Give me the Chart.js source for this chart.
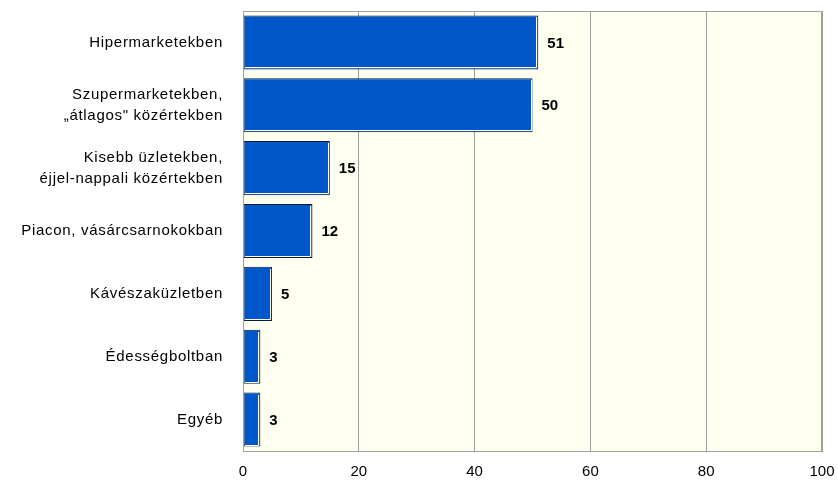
<!DOCTYPE html>
<html>
<head>
<meta charset="utf-8">
<script src="https://cdn.jsdelivr.net/npm/chart.js@4/dist/chart.umd.min.js"></script>
<style>html,body{margin:0;padding:0;background:#fff;}canvas{display:block;}</style>
</head>
<body>
<canvas id="c" width="838" height="482"></canvas>
<script>
const categories = [
  ["Hipermarketekben"],
  ["Szupermarketekben,", "„átlagos\" közértekben"],
  ["Kisebb üzletekben,", "éjjel-nappali közértekben"],
  ["Piacon, vásárcsarnokokban"],
  ["Kávészaküzletben"],
  ["Édességboltban"],
  ["Egyéb"]
];
const values = [51, 50, 15, 12, 5, 3, 3];
const xTicks = [0, 20, 40, 60, 80, 100];

const FONT = "'Liberation Sans', Arial, sans-serif";
const PLOT_BG = '#ffffef';
const GRID = '#a0a0a0';

const plotBgPlugin = {
  id: 'plotBg',
  afterLayout(chart) {
    const s = chart.scales.y;
    if (s && !s._lsPatched) {
      const orig = s.drawLabels.bind(s);
      s.drawLabels = function (area) {
        const ctx = this.ctx;
        ctx.save();
        ctx.letterSpacing = '0.7px';
        orig(area);
        ctx.restore();
      };
      s._lsPatched = true;
    }
  },
  beforeDraw(chart) {
    const {ctx, chartArea: a} = chart;
    ctx.save();
    ctx.fillStyle = PLOT_BG;
    ctx.fillRect(a.left, a.top, a.right - a.left, a.bottom - a.top);
    ctx.restore();
  },
  afterDraw(chart) {
    const {ctx, chartArea: a} = chart;
    ctx.save();
    ctx.strokeStyle = GRID;
    ctx.lineWidth = 1;
    ctx.strokeRect(Math.round(a.left) + 0.5, Math.round(a.top) + 0.5, Math.round(a.right - a.left) - 1, Math.round(a.bottom - a.top));
    ctx.restore();
  }
};

const barDecorPlugin = {
  id: 'barDecor',
  afterDatasetsDraw(chart) {
    const {ctx} = chart;
    const meta = chart.getDatasetMeta(0);
    ctx.save();
    meta.data.forEach((bar, i) => {
      const p = bar.getProps(['x', 'y', 'base', 'height'], true);
      const top = p.y - p.height / 2;
      const bottom = p.y + p.height / 2;
      ctx.strokeStyle = '#ffffff';
      ctx.lineWidth = 1;
      ctx.beginPath();
      ctx.moveTo(Math.round(p.x) - 1.5, Math.round(top) + 2);
      ctx.lineTo(Math.round(p.x) - 1.5, Math.round(bottom) - 1.5);
      ctx.lineTo(Math.round(p.base) + 1, Math.round(bottom) - 1.5);
      ctx.stroke();
      ctx.fillStyle = '#000';
      ctx.font = "bold 15px " + FONT;
      ctx.textAlign = 'left';
      ctx.textBaseline = 'middle';
      ctx.fillText(String(values[i]), p.x + 9, p.y + 1);
    });
    ctx.restore();
  }
};

function zeroPad(scale) {
  scale.paddingTop = 0; scale.paddingBottom = 0;
  scale.paddingLeft = 0; scale.paddingRight = 0;
}

new Chart(document.getElementById('c'), {
  type: 'bar',
  data: {
    labels: categories,
    datasets: [{
      data: values,
      backgroundColor: '#0057c9',
      borderColor: '#0d1a33',
      borderWidth: 1,
      borderSkipped: false,
      categoryPercentage: 1,
      barPercentage: 0.86
    }]
  },
  options: {
    indexAxis: 'y',
    responsive: false,
    animation: false,
    devicePixelRatio: 1,
    layout: {padding: {top: 11, right: 16, left: 0, bottom: 0}},
    plugins: {legend: {display: false}, tooltip: {enabled: false}},
    scales: {
      x: {
        min: 0, max: 100,
        afterBuildTicks(scale) { scale.ticks = xTicks.map(v => ({value: v})); },
        afterFit(scale) { scale.height = 31; zeroPad(scale); },
        grid: {color: GRID, lineWidth: 1, drawTicks: false, tickLength: 0},
        border: {display: true, color: GRID},
        ticks: {color: '#000', font: {family: FONT, size: 15}, padding: 12, maxRotation: 0}
      },
      y: {
        afterFit(scale) { scale.width = 243; zeroPad(scale); },
        grid: {display: false, drawTicks: false},
        border: {display: true, color: GRID},
        ticks: {color: '#000', font: {family: FONT, size: 15, lineHeight: 1.4}, padding: 20, crossAlign: 'near'}
      }
    }
  },
  plugins: [plotBgPlugin, barDecorPlugin]
});
</script>
</body>
</html>
